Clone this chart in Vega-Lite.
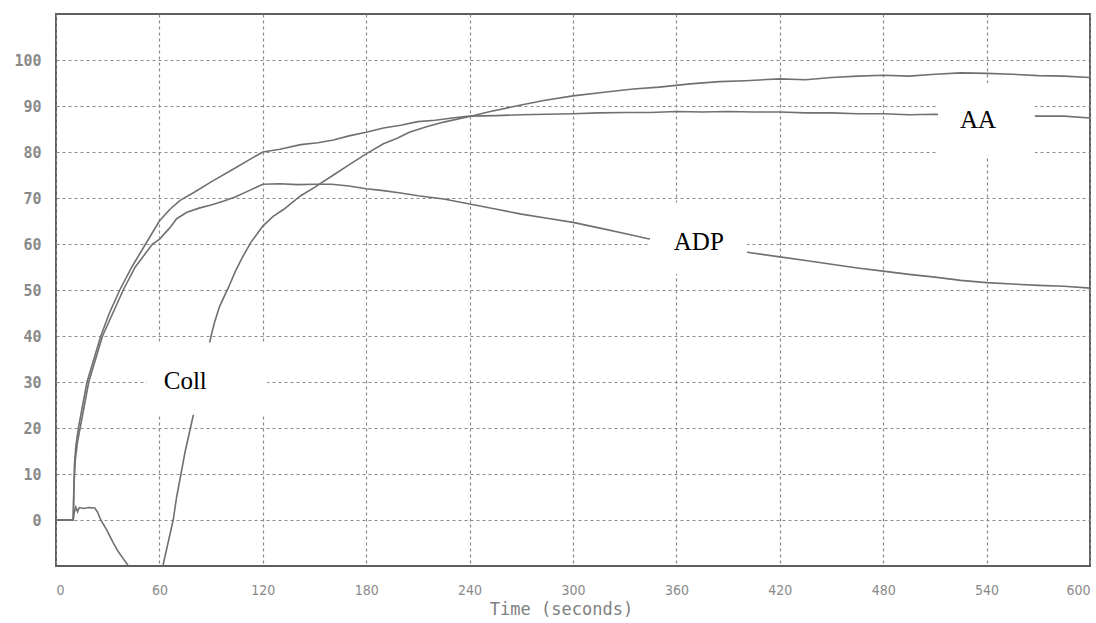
{
  "$schema": "https://vega.github.io/schema/vega-lite/v6.json",
  "width": 1034,
  "height": 552,
  "autosize": {"type": "none"},
  "padding": {"left": 56, "top": 14, "right": 6, "bottom": 57},
  "background": "white",
  "config": {
    "view": {"stroke": "#5e5e5e", "strokeWidth": 2},
    "axis": {
      "grid": true,
      "gridColor": "#8a8a8a",
      "gridDash": [3, 3],
      "gridWidth": 1.2,
      "gridOpacity": 1,
      "ticks": false,
      "domain": false,
      "labelColor": "#8a8a8a",
      "titleFont": "DejaVu Sans Mono",
      "titleFontWeight": "normal",
      "titleColor": "#808080"
    }
  },
  "datasets": {
    "curves": [
      {"s": "Coll", "seg": "c1", "t": 0, "v": 0},
      {"s": "Coll", "seg": "c1", "t": 10, "v": 0},
      {"s": "Coll", "seg": "c1", "t": 10.5, "v": 1.5},
      {"s": "Coll", "seg": "c1", "t": 11.5, "v": 2.8},
      {"s": "Coll", "seg": "c1", "t": 12.5, "v": 1.8},
      {"s": "Coll", "seg": "c1", "t": 13.5, "v": 2.7},
      {"s": "Coll", "seg": "c1", "t": 16, "v": 2.5},
      {"s": "Coll", "seg": "c1", "t": 19, "v": 2.7},
      {"s": "Coll", "seg": "c1", "t": 22.5, "v": 2.6},
      {"s": "Coll", "seg": "c1", "t": 24, "v": 1.8},
      {"s": "Coll", "seg": "c1", "t": 26, "v": 0},
      {"s": "Coll", "seg": "c1", "t": 29.5, "v": -2.2},
      {"s": "Coll", "seg": "c1", "t": 33, "v": -4.8},
      {"s": "Coll", "seg": "c1", "t": 36, "v": -6.8},
      {"s": "Coll", "seg": "c1", "t": 39, "v": -8.4},
      {"s": "Coll", "seg": "c1", "t": 42, "v": -10},
      {"s": "Coll", "seg": "c1", "t": 44, "v": -12},
      {"s": "Coll", "seg": "c2", "t": 60, "v": -13},
      {"s": "Coll", "seg": "c2", "t": 62, "v": -10},
      {"s": "Coll", "seg": "c2", "t": 65, "v": -5},
      {"s": "Coll", "seg": "c2", "t": 68, "v": 0},
      {"s": "Coll", "seg": "c2", "t": 70, "v": 5},
      {"s": "Coll", "seg": "c2", "t": 72.5, "v": 10},
      {"s": "Coll", "seg": "c2", "t": 75, "v": 15},
      {"s": "Coll", "seg": "c2", "t": 78, "v": 20},
      {"s": "Coll", "seg": "c2", "t": 81, "v": 25},
      {"s": "Coll", "seg": "c2", "t": 84, "v": 30},
      {"s": "Coll", "seg": "c2", "t": 87, "v": 35},
      {"s": "Coll", "seg": "c2", "t": 90, "v": 40},
      {"s": "Coll", "seg": "c2", "t": 92, "v": 43},
      {"s": "Coll", "seg": "c2", "t": 95, "v": 46.5},
      {"s": "Coll", "seg": "c2", "t": 100, "v": 50.5},
      {"s": "Coll", "seg": "c2", "t": 104, "v": 54},
      {"s": "Coll", "seg": "c2", "t": 108, "v": 57},
      {"s": "Coll", "seg": "c2", "t": 113, "v": 60.3},
      {"s": "Coll", "seg": "c2", "t": 120, "v": 63.9},
      {"s": "Coll", "seg": "c2", "t": 126, "v": 66},
      {"s": "Coll", "seg": "c2", "t": 132, "v": 67.5},
      {"s": "Coll", "seg": "c2", "t": 137, "v": 69},
      {"s": "Coll", "seg": "c2", "t": 142, "v": 70.5},
      {"s": "Coll", "seg": "c2", "t": 150, "v": 72.3},
      {"s": "Coll", "seg": "c2", "t": 161, "v": 75},
      {"s": "Coll", "seg": "c2", "t": 170, "v": 77.2},
      {"s": "Coll", "seg": "c2", "t": 180, "v": 79.6},
      {"s": "Coll", "seg": "c2", "t": 190, "v": 81.8},
      {"s": "Coll", "seg": "c2", "t": 198, "v": 83},
      {"s": "Coll", "seg": "c2", "t": 205, "v": 84.3},
      {"s": "Coll", "seg": "c2", "t": 215, "v": 85.5},
      {"s": "Coll", "seg": "c2", "t": 225, "v": 86.5},
      {"s": "Coll", "seg": "c2", "t": 240, "v": 87.7},
      {"s": "Coll", "seg": "c2", "t": 252, "v": 88.8},
      {"s": "Coll", "seg": "c2", "t": 267, "v": 90},
      {"s": "Coll", "seg": "c2", "t": 283, "v": 91.2},
      {"s": "Coll", "seg": "c2", "t": 300, "v": 92.2},
      {"s": "Coll", "seg": "c2", "t": 318, "v": 93},
      {"s": "Coll", "seg": "c2", "t": 335, "v": 93.7},
      {"s": "Coll", "seg": "c2", "t": 350, "v": 94.1},
      {"s": "Coll", "seg": "c2", "t": 368, "v": 94.8},
      {"s": "Coll", "seg": "c2", "t": 385, "v": 95.3},
      {"s": "Coll", "seg": "c2", "t": 400, "v": 95.5},
      {"s": "Coll", "seg": "c2", "t": 420, "v": 95.9},
      {"s": "Coll", "seg": "c2", "t": 435, "v": 95.7},
      {"s": "Coll", "seg": "c2", "t": 450, "v": 96.2},
      {"s": "Coll", "seg": "c2", "t": 465, "v": 96.5},
      {"s": "Coll", "seg": "c2", "t": 480, "v": 96.7},
      {"s": "Coll", "seg": "c2", "t": 495, "v": 96.5},
      {"s": "Coll", "seg": "c2", "t": 510, "v": 96.9},
      {"s": "Coll", "seg": "c2", "t": 525, "v": 97.2},
      {"s": "Coll", "seg": "c2", "t": 540, "v": 97.1},
      {"s": "Coll", "seg": "c2", "t": 555, "v": 96.9},
      {"s": "Coll", "seg": "c2", "t": 570, "v": 96.6},
      {"s": "Coll", "seg": "c2", "t": 585, "v": 96.5},
      {"s": "Coll", "seg": "c2", "t": 600, "v": 96.2},

      {"s": "AA", "seg": "a", "t": 0, "v": 0},
      {"s": "AA", "seg": "a", "t": 10, "v": 0},
      {"s": "AA", "seg": "a", "t": 10.3, "v": 6},
      {"s": "AA", "seg": "a", "t": 10.7, "v": 12},
      {"s": "AA", "seg": "a", "t": 11.5, "v": 16},
      {"s": "AA", "seg": "a", "t": 13, "v": 20},
      {"s": "AA", "seg": "a", "t": 15.5, "v": 25},
      {"s": "AA", "seg": "a", "t": 18, "v": 30},
      {"s": "AA", "seg": "a", "t": 22, "v": 35},
      {"s": "AA", "seg": "a", "t": 26, "v": 40},
      {"s": "AA", "seg": "a", "t": 31, "v": 45},
      {"s": "AA", "seg": "a", "t": 37, "v": 50},
      {"s": "AA", "seg": "a", "t": 44, "v": 55},
      {"s": "AA", "seg": "a", "t": 52, "v": 60},
      {"s": "AA", "seg": "a", "t": 60, "v": 65},
      {"s": "AA", "seg": "a", "t": 66, "v": 67.5},
      {"s": "AA", "seg": "a", "t": 72, "v": 69.5},
      {"s": "AA", "seg": "a", "t": 80, "v": 71.2},
      {"s": "AA", "seg": "a", "t": 90, "v": 73.5},
      {"s": "AA", "seg": "a", "t": 103, "v": 76.3},
      {"s": "AA", "seg": "a", "t": 112, "v": 78.3},
      {"s": "AA", "seg": "a", "t": 120, "v": 80},
      {"s": "AA", "seg": "a", "t": 130, "v": 80.6},
      {"s": "AA", "seg": "a", "t": 142, "v": 81.6},
      {"s": "AA", "seg": "a", "t": 152, "v": 82},
      {"s": "AA", "seg": "a", "t": 161, "v": 82.6},
      {"s": "AA", "seg": "a", "t": 170, "v": 83.5},
      {"s": "AA", "seg": "a", "t": 180, "v": 84.3},
      {"s": "AA", "seg": "a", "t": 190, "v": 85.2},
      {"s": "AA", "seg": "a", "t": 200, "v": 85.8},
      {"s": "AA", "seg": "a", "t": 210, "v": 86.6},
      {"s": "AA", "seg": "a", "t": 220, "v": 86.9},
      {"s": "AA", "seg": "a", "t": 230, "v": 87.4},
      {"s": "AA", "seg": "a", "t": 240, "v": 87.8},
      {"s": "AA", "seg": "a", "t": 255, "v": 87.9},
      {"s": "AA", "seg": "a", "t": 270, "v": 88.1},
      {"s": "AA", "seg": "a", "t": 285, "v": 88.2},
      {"s": "AA", "seg": "a", "t": 300, "v": 88.3},
      {"s": "AA", "seg": "a", "t": 315, "v": 88.5},
      {"s": "AA", "seg": "a", "t": 330, "v": 88.6},
      {"s": "AA", "seg": "a", "t": 345, "v": 88.6},
      {"s": "AA", "seg": "a", "t": 360, "v": 88.8},
      {"s": "AA", "seg": "a", "t": 375, "v": 88.7},
      {"s": "AA", "seg": "a", "t": 390, "v": 88.8},
      {"s": "AA", "seg": "a", "t": 405, "v": 88.7},
      {"s": "AA", "seg": "a", "t": 420, "v": 88.7},
      {"s": "AA", "seg": "a", "t": 435, "v": 88.5},
      {"s": "AA", "seg": "a", "t": 450, "v": 88.5},
      {"s": "AA", "seg": "a", "t": 465, "v": 88.3},
      {"s": "AA", "seg": "a", "t": 480, "v": 88.3},
      {"s": "AA", "seg": "a", "t": 495, "v": 88.1},
      {"s": "AA", "seg": "a", "t": 510, "v": 88.2},
      {"s": "AA", "seg": "a", "t": 525, "v": 88},
      {"s": "AA", "seg": "a", "t": 540, "v": 88},
      {"s": "AA", "seg": "a", "t": 555, "v": 88},
      {"s": "AA", "seg": "a", "t": 570, "v": 87.8},
      {"s": "AA", "seg": "a", "t": 585, "v": 87.8},
      {"s": "AA", "seg": "a", "t": 600, "v": 87.4},

      {"s": "ADP", "seg": "b", "t": 0, "v": 0},
      {"s": "ADP", "seg": "b", "t": 10, "v": 0},
      {"s": "ADP", "seg": "b", "t": 10.5, "v": 8},
      {"s": "ADP", "seg": "b", "t": 11.2, "v": 13},
      {"s": "ADP", "seg": "b", "t": 12.5, "v": 17},
      {"s": "ADP", "seg": "b", "t": 14, "v": 20},
      {"s": "ADP", "seg": "b", "t": 16.5, "v": 25},
      {"s": "ADP", "seg": "b", "t": 19, "v": 30},
      {"s": "ADP", "seg": "b", "t": 23, "v": 35},
      {"s": "ADP", "seg": "b", "t": 27, "v": 40},
      {"s": "ADP", "seg": "b", "t": 33, "v": 45},
      {"s": "ADP", "seg": "b", "t": 39, "v": 50},
      {"s": "ADP", "seg": "b", "t": 46, "v": 55},
      {"s": "ADP", "seg": "b", "t": 56, "v": 60},
      {"s": "ADP", "seg": "b", "t": 60, "v": 61},
      {"s": "ADP", "seg": "b", "t": 66, "v": 63.5},
      {"s": "ADP", "seg": "b", "t": 70, "v": 65.5},
      {"s": "ADP", "seg": "b", "t": 76, "v": 66.9},
      {"s": "ADP", "seg": "b", "t": 83, "v": 67.8},
      {"s": "ADP", "seg": "b", "t": 90, "v": 68.5},
      {"s": "ADP", "seg": "b", "t": 97, "v": 69.3},
      {"s": "ADP", "seg": "b", "t": 104, "v": 70.2},
      {"s": "ADP", "seg": "b", "t": 112, "v": 71.6},
      {"s": "ADP", "seg": "b", "t": 120, "v": 73},
      {"s": "ADP", "seg": "b", "t": 130, "v": 73.1},
      {"s": "ADP", "seg": "b", "t": 140, "v": 72.9},
      {"s": "ADP", "seg": "b", "t": 150, "v": 73},
      {"s": "ADP", "seg": "b", "t": 160, "v": 73},
      {"s": "ADP", "seg": "b", "t": 170, "v": 72.6},
      {"s": "ADP", "seg": "b", "t": 180, "v": 72},
      {"s": "ADP", "seg": "b", "t": 190, "v": 71.6},
      {"s": "ADP", "seg": "b", "t": 200, "v": 71.1},
      {"s": "ADP", "seg": "b", "t": 210, "v": 70.5},
      {"s": "ADP", "seg": "b", "t": 225, "v": 69.8},
      {"s": "ADP", "seg": "b", "t": 240, "v": 68.7},
      {"s": "ADP", "seg": "b", "t": 255, "v": 67.6},
      {"s": "ADP", "seg": "b", "t": 270, "v": 66.5},
      {"s": "ADP", "seg": "b", "t": 285, "v": 65.6},
      {"s": "ADP", "seg": "b", "t": 300, "v": 64.7},
      {"s": "ADP", "seg": "b", "t": 315, "v": 63.5},
      {"s": "ADP", "seg": "b", "t": 330, "v": 62.3},
      {"s": "ADP", "seg": "b", "t": 343, "v": 61.2},
      {"s": "ADP", "seg": "b", "t": 360, "v": 60.3},
      {"s": "ADP", "seg": "b", "t": 380, "v": 59.3},
      {"s": "ADP", "seg": "b", "t": 401, "v": 58.2},
      {"s": "ADP", "seg": "b", "t": 420, "v": 57.2},
      {"s": "ADP", "seg": "b", "t": 435, "v": 56.4},
      {"s": "ADP", "seg": "b", "t": 450, "v": 55.6},
      {"s": "ADP", "seg": "b", "t": 465, "v": 54.8},
      {"s": "ADP", "seg": "b", "t": 480, "v": 54.1},
      {"s": "ADP", "seg": "b", "t": 495, "v": 53.4},
      {"s": "ADP", "seg": "b", "t": 510, "v": 52.8},
      {"s": "ADP", "seg": "b", "t": 525, "v": 52.1},
      {"s": "ADP", "seg": "b", "t": 540, "v": 51.6},
      {"s": "ADP", "seg": "b", "t": 555, "v": 51.3},
      {"s": "ADP", "seg": "b", "t": 570, "v": 51},
      {"s": "ADP", "seg": "b", "t": 585, "v": 50.8},
      {"s": "ADP", "seg": "b", "t": 600, "v": 50.4}
    ],
    "labels": [
      {"label": "Coll", "t": 75, "v": 30.3, "t1": 52.8, "t2": 122.4, "v1": 22.9, "v2": 38.6},
      {"label": "ADP", "t": 373, "v": 60.5, "t1": 344.7, "t2": 401, "v1": 53.5, "v2": 69},
      {"label": "AA", "t": 535, "v": 87, "t1": 511.8, "t2": 568, "v1": 79, "v2": 95}
    ]
  },
  "layer": [
    {
      "data": {"name": "curves"},
      "mark": {"type": "line", "clip": true, "strokeWidth": 1.6, "color": "#707070", "interpolate": "linear"},
      "encoding": {
        "x": {
          "field": "t", "type": "quantitative",
          "scale": {"domain": [0, 600], "nice": false, "zero": false},
          "axis": {
            "values": [0, 60, 120, 180, 240, 300, 360, 420, 480, 540, 600],
            "labelFont": "Liberation Sans Narrow, DejaVu Sans Condensed",
            "labelFontSize": 14,
            "labelPadding": 17,
            "title": "Time (seconds)",
            "titleFontSize": 17,
            "titleBaseline": "top",
            "titleX": 505,
            "titleY": 35
          }
        },
        "y": {
          "field": "v", "type": "quantitative",
          "scale": {"domain": [-10, 110], "nice": false, "zero": false},
          "axis": {
            "values": [0, 10, 20, 30, 40, 50, 60, 70, 80, 90, 100],
            "labelFont": "DejaVu Sans Mono",
            "labelFontSize": 15,
            "labelFontWeight": "bold",
            "labelPadding": 15,
            "title": null
          }
        },
        "detail": {"field": "seg", "type": "nominal"},
        "order": {"field": "t", "type": "quantitative"}
      }
    },
    {
      "data": {"name": "labels"},
      "mark": {"type": "rect", "fill": "white", "stroke": null},
      "encoding": {
        "x": {"field": "t1", "type": "quantitative"},
        "x2": {"field": "t2"},
        "y": {"field": "v1", "type": "quantitative"},
        "y2": {"field": "v2"}
      }
    },
    {
      "data": {"name": "labels"},
      "mark": {"type": "text", "font": "Liberation Serif", "fontSize": 25, "color": "black", "align": "center", "baseline": "middle"},
      "encoding": {
        "x": {"field": "t", "type": "quantitative"},
        "y": {"field": "v", "type": "quantitative"},
        "text": {"field": "label", "type": "nominal"}
      }
    }
  ]
}
